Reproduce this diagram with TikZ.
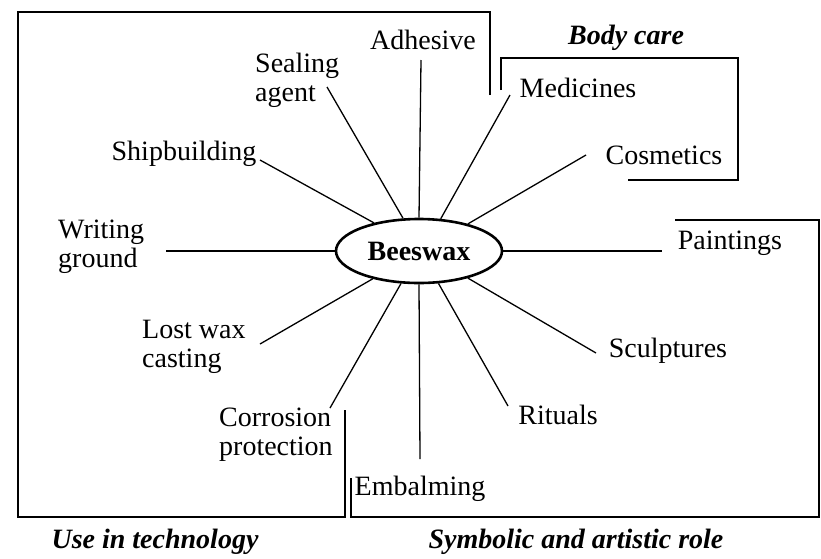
\documentclass[tikz,border=0pt]{standalone}
\usepackage{fontspec}
\setmainfont{Liberation Serif}
\usetikzlibrary{shapes,positioning}

\begin{document}
\begin{tikzpicture}[x=1pt, y=-1pt,
        lbl/.style={font=\fontsize{28}{29}\selectfont, inner sep=0pt, align=left},
        cat/.style={font=\fontsize{28}{29}\selectfont\bfseries\itshape, inner sep=0pt},
        spoke/.style={line width=1.3pt},
        frame/.style={line width=1.1pt}]
        \useasboundingbox (0,0) rectangle (821,558);

        % Centre
        \node[draw, ellipse, line width=2.6pt, minimum width=166pt, minimum height=64pt, inner sep=0pt,
              font=\fontsize{28}{29}\selectfont\bfseries] (bw) at (419,251) {Beeswax};

        % Labels
        \node[lbl] (adh) at (423,40) {Adhesive};
        \node[lbl, anchor=west] (seal) at (255,80) {Sealing\\agent};
        \node[lbl] (med) at (578,88) {Medicines};
        \node[lbl] (ship) at (184,154) {Shipbuilding};
        \node[lbl] (cosm) at (664,155) {Cosmetics};
        \node[lbl, anchor=west] (writ) at (58,247) {Writing\\ground};
        \node[lbl] (paint) at (730,243) {Paintings};
        \node[lbl, anchor=west] (lost) at (142,347) {Lost wax\\casting};
        \node[lbl] (sculp) at (668,351) {Sculptures};
        \node[lbl, anchor=west] (corr) at (219,435) {Corrosion\\protection};
        \node[lbl] (rit) at (558,415) {Rituals};
        \node[lbl] (emb) at (420,489) {Embalming};

        % Categories
        \node[cat] (body) at (626,38) {Body care};
        \node[cat] (tech) at (155,542) {Use in technology};
        \node[cat] (sym) at (576,542) {Symbolic and artistic role};

        % Spoke ends
        \coordinate (adhE) at (421,60);
        \coordinate (sealE) at (327,87);
        \coordinate (medE) at (510,95);
        \coordinate (shipE) at (260,160);
        \coordinate (cosmE) at (586,155);
        \coordinate (writE) at (166,251);
        \coordinate (paintE) at (662,251);
        \coordinate (lostE) at (260,344);
        \coordinate (sculpE) at (596,353);
        \coordinate (corrE) at (330,408);
        \coordinate (ritE) at (508,406);
        \coordinate (embE) at (420,459);

        \foreach \a/\e in {90/adhE,116/sealE,56/medE,148/shipE,29/cosmE,180/writE,0/paintE,
                           211/lostE,331/sculpE,241/corrE,301/ritE,270/embE}
            \draw[spoke] (bw.\a) -- (\e);

        % Frames
        \draw[frame] (490,95) -- (490,12) -- (18,12) -- (18,517) -- (345,517) -- (345,410);
        \draw[frame] (501,90) -- (501,58) -- (738,58) -- (738,180) -- (628,180);
        \draw[frame] (675,220) -- (819,220) -- (819,517) -- (351,517) -- (351,478);
    \end{tikzpicture}
\end{document}
